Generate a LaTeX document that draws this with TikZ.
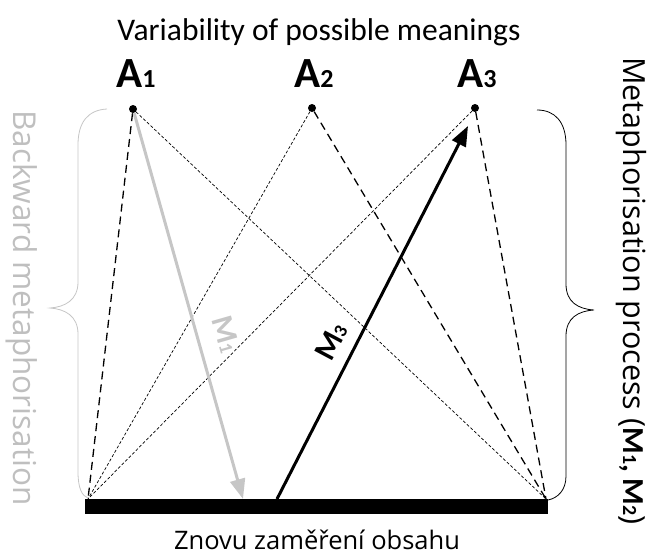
\documentclass[tikz,border=0pt]{standalone}
\usepackage{fontspec}
\setmainfont{Carlito}
\newfontfamily\opensans{Open Sans}
\usetikzlibrary{arrows.meta}

% label of a possible meaning, with its small index
\newcommand{\meanlab}[1]{\fontsize{43}{43}\selectfont\bfseries A{\fontsize{26}{26}\selectfont #1}}

\begin{document}
\begin{tikzpicture}[x=1pt,y=-1pt,
		meaning/.style={circle,fill,inner sep=0pt,minimum size=8pt},
		strong/.style={dash pattern=on 8pt off 5pt,line width=1.3pt},
		faint/.style={dash pattern=on 3pt off 2pt,line width=0.7pt},
		metaarrow/.style={line width=3pt,-{Triangle[length=20pt,width=15pt]}}]
	\useasboundingbox (0,0) rectangle (652,557);
	% the possible meanings
	\node[font=\fontsize{31.5}{34}\selectfont] (title) at (319,32) {Variability of possible meanings};
	\node[meaning] (a1) at (133,109) {};
	\node[meaning] (a2) at (312,108) {};
	\node[meaning] (a3) at (475,108) {};
	\node (l1) at (136,74) {\meanlab{1}};
	\node (l2) at (314,74) {\meanlab{2}};
	\node (l3) at (477,74) {\meanlab{3}};
	% the content bar and its two ends
	\node[fill,inner sep=0pt,minimum width=463pt,minimum height=15pt] (bar) at (316.5,506.5) {};
	\coordinate (lft) at (88,499);
	\coordinate (rgt) at (546,499);
	\node[font=\opensans\fontsize{25.5}{28}\selectfont] (refocus) at (317,540) {Znovu zaměření obsahu};
	% all the ways between the meanings and the bar
	\draw[strong] (a1) -- (lft);
	\draw[faint] (a1) -- (rgt);
	\draw[faint] (a2) -- (lft);
	\draw[strong] (a2) -- (rgt);
	\draw[faint] (a3) -- (lft);
	\draw[strong] (a3) -- (rgt);
	% the two metaphorisations
	\coordinate (m1end) at (243,499);
	\coordinate (m3beg) at (277,499);
	\coordinate (m3end) at (468,126);
	\draw[metaarrow,gray!45] (a1) -- (m1end);
	\draw[metaarrow] (m3beg) -- (m3end);
	\node[rotate=-74,text=gray!45,font=\fontsize{31}{31}\selectfont\bfseries] (m1) at (226,334) {M{\fontsize{19}{19}\selectfont 1}};
	\node[rotate=62,font=\fontsize{31}{31}\selectfont\bfseries] (m3) at (331,342) {M{\fontsize{19}{19}\selectfont 3}};
	% braces on both sides
	\draw[gray!45,line width=0.8pt] (107,109) .. controls (88,110) and (78,122) .. (78,145) -- (78,282)
		.. controls (78,300) and (65,307) .. (50,308) .. controls (65,309) and (78,316) .. (78,334)
		-- (78,472) .. controls (78,488) and (82,496) .. (88,498);
	\draw[line width=0.8pt] (537,110) .. controls (555,110) and (566,122) .. (566,145) -- (566,284)
		.. controls (566,302) and (578,309) .. (594,310) .. controls (578,311) and (566,318) .. (566,336)
		-- (566,476) .. controls (566,490) and (558,498) .. (548,500);
	\node[rotate=-90,text=gray!50,font=\opensans\fontsize{31.5}{31.5}\selectfont] (back) at (22,308) {Backward metaphorisation};
	\node[rotate=-90,font=\opensans\fontsize{30.5}{30.5}\selectfont] (process) at (631,291)
		{Metaphorisation process ({\rmfamily\bfseries M{\fontsize{20}{20}\selectfont 1}, M{\fontsize{20}{20}\selectfont 2}})};
\end{tikzpicture}
\end{document}
